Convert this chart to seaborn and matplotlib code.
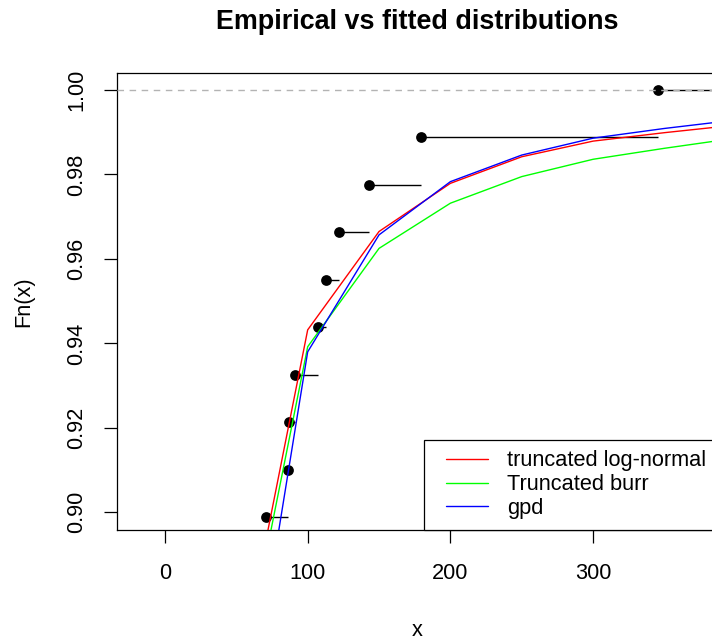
import numpy as np
import pandas as pd
import seaborn as sns
import matplotlib
matplotlib.use("Agg")
import matplotlib.pyplot as plt
from matplotlib.lines import Line2D
from matplotlib.legend_handler import HandlerLine2D

# empirical cdf (n = 89), only the upper tail is inside the window
ecdf_x = [70.7, 86.1, 87.0, 91.1, 107.1, 113.0, 122.0, 143.0, 179.2, 345.5]
ecdf_y = [0.8989, 0.9101, 0.9213, 0.9326, 0.9438, 0.9551, 0.9663, 0.9775, 0.9888, 1.0]

# fitted cdfs evaluated on a coarse grid
x_fit = [50, 100, 150, 200, 250, 300, 350, 400]
lnorm_fit = [0.8580, 0.9432, 0.9665, 0.9779, 0.9842, 0.9879, 0.9899, 0.9917]
burr_fit = [0.8548, 0.9392, 0.9625, 0.9732, 0.9795, 0.9836, 0.9862, 0.9886]
gpd_fit = [0.8336, 0.9380, 0.9657, 0.9783, 0.9846, 0.9886, 0.9909, 0.9929]

dist_names = ["truncated log-normal", "Truncated burr", "gpd"]
dist_cols = ["#FF0000", "#00FF00", "#0000FF"]

x_ticks = [0, 100, 200, 300]
y_ticks = [0.90, 0.92, 0.94, 0.96, 0.98, 1.00]

sns.set_theme(style="ticks")
plt.rcParams["font.family"] = ["Liberation Sans", "DejaVu Sans"]
plt.rcParams["axes.edgecolor"] = "black"
plt.rcParams["axes.linewidth"] = 0.9
plt.rcParams["text.color"] = "black"
plt.rcParams["axes.labelcolor"] = "black"
plt.rcParams["axes.titlecolor"] = "black"

fs = 15.7
fig = plt.figure(figsize=(7.12, 6.41), dpi=100)
ax = fig.add_axes([117 / 712, 1 - 530 / 641, 600 / 712, 457 / 641])

ax.set_xlim(-33.6, 386.8)
ax.set_ylim(0.89581, 1.00403)

# step segments + points
x_next = ecdf_x[1:] + [ax.get_xlim()[1] + 50]
ax.hlines(ecdf_y, ecdf_x, x_next, color="black", lw=1.0, zorder=2)
sns.scatterplot(x=ecdf_x, y=ecdf_y, color="black", s=60, edgecolor="black",
                linewidth=0, ax=ax, zorder=3)
ax.axhline(1.0, color="#B3B3B3", lw=1.0, ls=(0, (4.7, 4)), zorder=4)

for vals, name, col in zip([lnorm_fit, burr_fit, gpd_fit], dist_names, dist_cols):
    sns.lineplot(x=x_fit, y=vals, color=col, lw=1.0, label=name, ax=ax,
                 sort=False, estimator=None, zorder=5)

ax.set_xticks(x_ticks)
ax.set_xticklabels([str(v) for v in x_ticks], fontsize=fs)
ax.set_yticks(y_ticks)
ax.set_yticklabels(["%.2f" % v for v in y_ticks], fontsize=fs, rotation=90, va="center")
ax.tick_params(axis="both", length=9.4, width=0.9, color="black", labelcolor="black")
ax.tick_params(axis="x", pad=14.4)
ax.tick_params(axis="y", pad=12.2)

ax.set_xlabel("x", fontsize=fs, labelpad=25.6)
ax.set_ylabel("Fn(x)", fontsize=fs, labelpad=22.8)
ax.set_title("Empirical vs fitted distributions", fontsize=19.4, fontweight="bold", pad=31.5)

handles, labels = ax.get_legend_handles_labels()
leg = ax.legend(handles, labels, loc="lower right", fontsize=fs, frameon=True,
                fancybox=False, edgecolor="black", framealpha=1, borderaxespad=0,
                borderpad=0.5, labelspacing=0.13, handlelength=2.92,
                handletextpad=0.38, numpoints=2,
                handler_map={Line2D: HandlerLine2D(marker_pad=0.5)})
leg.get_frame().set_linewidth(0.9)
for t in leg.get_texts():
    t.set_color("black")

fig.savefig("out.png", dpi=100)
